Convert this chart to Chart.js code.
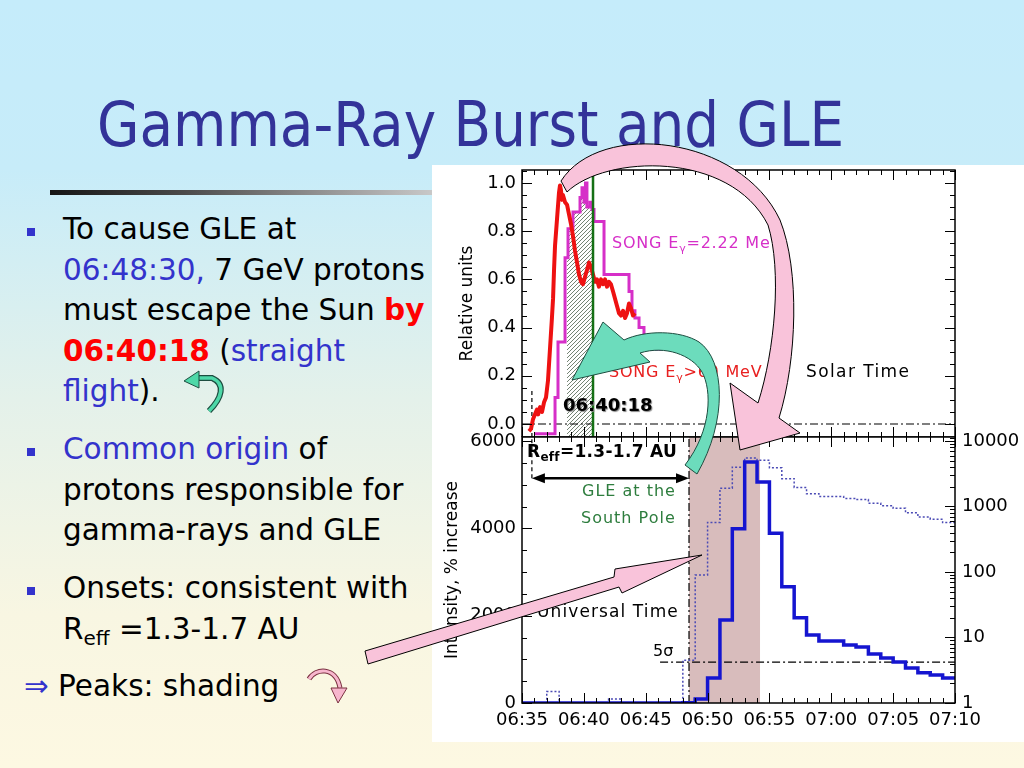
<!DOCTYPE html>
<html>
<head>
<meta charset="utf-8">
<script src="https://cdn.jsdelivr.net/npm/chart.js@4.4.1/dist/chart.umd.min.js"></script>
<style>
html, body { margin: 0; padding: 0; }
body {
    width: 1024px; height: 768px; overflow: hidden; position: relative;
    background: linear-gradient(to bottom, #c5ecfb 0%, #c7ecf9 22%, #e4f1ea 52%, #f8f6e2 80%, #fdf8e2 100%);
    font-family: "DejaVu Sans", sans-serif;
}
.title {
    position: absolute; left: 97px; top: 88px; margin: 0;
    font-weight: normal; font-size: 63px; line-height: 73px; color: #333399;
    white-space: nowrap; transform: scaleX(0.87); transform-origin: left top;
}
.rule {
    position: absolute; left: 50px; top: 190px; width: 382px; height: 5px;
    background: linear-gradient(to right, #151515, #4a4a4a 35%, #9a9a9a 75%, #c8c8c8);
}
.para { position: absolute; left: 63px; font-size: 29.5px; line-height: 40.5px; color: #000; white-space: nowrap; }
.bul { position: absolute; left: 27px; width: 8px; height: 8px; background: #3333cc; }
.blue { color: #3333cc; }
.red { color: #ff0000; font-weight: bold; }
.para sub { font-size: 20px; vertical-align: -6px; line-height: 0; }
#plotbox { position: absolute; left: 432px; top: 165px; width: 592px; height: 577px; background: #fff; }
canvas { position: absolute; }
.lbl { position: absolute; white-space: nowrap; line-height: 1; font-family: "DejaVu Sans", sans-serif; }
.lbl sub { font-size: 11px; vertical-align: -4px; line-height: 0; }
svg { position: absolute; left: 0; top: 0; }
</style>
</head>
<body>

<h1 class="title">Gamma-Ray Burst and GLE</h1>
<div class="rule"></div>

<div class="bul" style="top:228px"></div>
<div class="para" style="top:209px">To cause GLE at<br><span class="blue">06:48:30,</span> 7 GeV protons<br>must escape the Sun <span class="red">by</span><br><span class="red">06:40:18</span> (<span class="blue">straight</span><br><span class="blue">flight</span>).</div>

<div class="bul" style="top:448px"></div>
<div class="para" style="top:429px"><span class="blue">Common origin</span> of<br>protons responsible for<br>gamma-rays and GLE</div>

<div class="bul" style="top:587px"></div>
<div class="para" style="top:568px">Onsets: consistent with<br>R<sub>eff</sub> =1.3-1.7 AU</div>

<div class="para" style="top:666px;left:24px"><span class="blue">&rArr;</span> Peaks: shading</div>

<div id="plotbox"></div>
<canvas id="topChart" width="592" height="272" style="left:432px;top:165px;width:592px;height:272px"></canvas>
<canvas id="botChart" width="592" height="322" style="left:432px;top:420px;width:592px;height:322px"></canvas>

<div class="lbl" style="left:612px;top:235px;font-size:16px;letter-spacing:0.8px;color:#d62fc8">SONG E<sub>&gamma;</sub>=2.22 MeV</div>
<div class="lbl" style="left:609px;top:364px;font-size:16px;letter-spacing:0.8px;color:#e82020">SONG E<sub>&gamma;</sub>&gt;60 MeV</div>
<div class="lbl" style="left:806px;top:363px;font-size:17px;letter-spacing:1.4px;color:#000">Solar Time</div>
<div class="lbl" style="left:563px;top:396px;font-size:18px;font-weight:bold;color:#000;text-shadow:1px 1px 1px #888">06:40:18</div>
<div class="lbl" style="left:527px;top:443px;font-size:17px;font-weight:bold;letter-spacing:0.3px;color:#000">R<sub style="font-size:12px">eff</sub>=1.3-1.7 AU</div>
<div class="lbl" style="left:582px;top:483px;font-size:16px;letter-spacing:1px;color:#2e7d3e">GLE at the</div>
<div class="lbl" style="left:581px;top:510px;font-size:16px;letter-spacing:1px;color:#2e7d3e">South Pole</div>
<div class="lbl" style="left:537px;top:603px;font-size:17px;letter-spacing:1.1px;color:#000">Universal Time</div>
<div class="lbl" style="left:653px;top:643px;font-size:16px;color:#000">5&sigma;</div>

<svg width="1024" height="768" viewBox="0 0 1024 768">
    <!-- pink arc: peaks -> shading -->
    <path d="M561,181 C600,120 740,135 780,220 C800,270 797,360 779,418 L800,433 L740,450 L730,383 L758,403 C775,350 782,270 768,225 C730,150 605,155 567,192 Z"
          fill="#f9c3da" stroke="#000" stroke-width="1"/>
    <!-- green arc: GLE onset -> escape time -->
    <path d="M624,340 L603,322 L572,380 L650,362 L640,353 C665,345 692,355 702,372 C712,390 712,430 685,465 L697,474 C728,420 725,360 699,342 C680,330 645,330 624,340 Z"
          fill="#6cdcbc" stroke="#1d4d40" stroke-width="1"/>
    <!-- straight pink arrow from the text -->
    <path d="M365,651 L614,577 L615,569 L702,555 L622,593 L619,587 L368,664 Z"
          fill="#f9c3da" stroke="#000" stroke-width="1"/>
    <!-- small arrows in the bullet text -->
    <path d="M209,411 C222,398 226,384 212,378 L199,378" fill="none" stroke="#1d4d40" stroke-width="6"/>
    <path d="M209,411 C222,398 226,384 212,378 L199,378" fill="none" stroke="#4ed8a8" stroke-width="3.5"/>
    <path d="M184,381 L199,371 L199,388 Z" fill="#4ed8a8" stroke="#1d4d40" stroke-width="1"/>
    <path d="M309,679 C315,668 336,666 340,688" fill="none" stroke="#7a3040" stroke-width="5"/>
    <path d="M309,679 C315,668 336,666 340,688" fill="none" stroke="#f7b6cd" stroke-width="3"/>
    <path d="M338,703 L331,688 L347,688 Z" fill="#f7b6cd" stroke="#7a3040" stroke-width="1"/>
</svg>

<script>
// ---------- top panel: SONG gamma-ray profiles, solar time (minutes after 06:00) ----------
const pionT = [35.57, 35.73, 35.89, 36.05, 36.21, 36.30, 36.46, 36.62, 36.78, 36.94, 37.10, 37.26, 37.42, 37.51,
               37.59, 37.67, 37.83, 37.99, 38.07, 38.15, 38.23, 38.31, 38.48, 38.64, 38.80, 38.96, 39.12, 39.28,
               39.45, 39.61, 39.77, 39.93, 40.09, 40.26, 40.42, 40.58, 40.74, 40.90, 41.06, 41.22, 41.39, 41.55,
               41.71, 41.87, 42.03, 42.19, 42.36, 42.52, 42.68, 42.84, 43.00, 43.17, 43.33, 43.49, 43.65, 43.81,
               43.97, 44.13];
const pionV = [-0.03, -0.02, 0.02, 0.04, 0.06, 0.04, 0.07, 0.05, 0.09, 0.11, 0.18, 0.31, 0.44, 0.52,
               0.64, 0.74, 0.85, 0.96, 0.99, 0.97, 0.93, 0.95, 0.92, 0.91, 0.87, 0.83, 0.78, 0.72,
               0.67, 0.62, 0.59, 0.58, 0.61, 0.64, 0.67, 0.65, 0.62, 0.59, 0.60, 0.57, 0.60, 0.58,
               0.60, 0.57, 0.59, 0.58, 0.55, 0.52, 0.49, 0.46, 0.45, 0.47, 0.44, 0.46, 0.50, 0.48,
               0.45, 0.46];
// 2.22 MeV line, histogram: each value holds until the next time
const lineT = [36.05, 37.67, 37.91, 38.48, 38.72, 39.12, 39.69, 39.85, 40.01, 40.13, 40.25, 40.50, 40.66,
               40.82, 41.63, 43.65, 43.89, 44.13, 44.46, 44.86, 45.19, 45.51, 45.83, 46.16, 46.40];
const lineV = [-0.04, 0.11, 0.34, 0.69, 0.81, 0.88, 0.94, 0.98, 0.92, 1.00, 0.90, 0.92, 0.89,
               0.84, 0.62, 0.55, 0.47, 0.44, 0.40, 0.36, 0.31, 0.33, 0.31, 0.32, 0.32];
const hatchFrom = 38.64, hatchTo = 40.74;   // shaded part of the 2.22 MeV peak
const escapeT = 40.74;                        // 06:40:18 line
const onsetT = 35.8;                          // dashed onset marker
const relTicks = [0, 0.2, 0.4, 0.6, 0.8, 1.0];

// ---------- bottom panel: South Pole neutron monitor, UT, 1-min bins ----------
const gleT = [35, 36, 37, 38, 39, 40, 41, 42, 43, 44, 45, 46, 47, 48, 49, 50, 51, 52,
              53, 54, 55, 56, 57, 58, 59, 60, 61, 62, 63, 64, 65, 66, 67, 68, 69];
const gleV = [1, 1, 1.5, 1, 1, 1, 1, 1.15, 1, 1, 1, 1, 1, 4.5, 90, 570, 1900, 3990,
              5520, 5060, 3890, 2660, 1950, 1560, 1420, 1420, 1330, 1280, 1120, 1030, 940, 800, 690, 640, 570];
const gleEnd = 70;
const fiveSigma = 4.2, fiveSigmaFrom = 46.16;
const arrivalT = 48.5, peakEndT = 54.25;     // shaded peak interval
const rangeLevel = 5150;                      // height of the R_eff double arrow
const timeTicks = [35, 40, 45, 50, 55, 60, 65, 70];
const intTicks = [0, 2000, 4000, 6000];
const logTicks = [1, 10, 100, 1000, 10000];

const yTopMin = -0.054, yTopMax = 1.054;
const yIntMax = 6092, yLogMax = 11508;

Chart.defaults.font.family = "'DejaVu Sans', sans-serif";
Chart.defaults.color = '#000';

const zip = (t, v) => t.map((x, i) => ({ x: x, y: v[i] }));
const clock = v => String(6 + Math.floor(v / 60)).padStart(2, '0') + ':' + String(v % 60).padStart(2, '0');
const steps = (lo, hi, st) => { const out = []; for (let v = lo; v <= hi + 1e-9; v += st) out.push(+v.toFixed(6)); return out; };
const dashDot = [8, 3, 2, 3];

function valueAt(t) {
    let v = lineV[0];
    lineT.forEach((x, i) => { if (x <= t) v = lineV[i]; });
    return v;
}
const hatchPts = [{ x: hatchFrom, y: valueAt(hatchFrom) }]
    .concat(zip(lineT, lineV).filter(p => p.x > hatchFrom && p.x < hatchTo))
    .concat([{ x: hatchTo, y: valueAt(hatchTo) }]);

function hatchPattern(ctx) {
    const c = document.createElement('canvas');
    c.width = 4; c.height = 4;
    const g = c.getContext('2d');
    g.fillStyle = '#fff'; g.fillRect(0, 0, 4, 4);
    g.strokeStyle = '#4f634f'; g.lineWidth = 0.8;
    g.beginPath();
    g.moveTo(0, 4); g.lineTo(4, 0);
    g.moveTo(-1, 1); g.lineTo(1, -1);
    g.moveTo(3, 5); g.lineTo(5, 3);
    g.stroke();
    return ctx.createPattern(c, 'repeat');
}

// frame with inward ticks, IDL style
function frameTicks(spec) {
    return {
        id: 'frameTicks',
        afterDatasetsDraw(chart) {
            const { ctx, chartArea: a } = chart;
            ctx.save();
            ctx.strokeStyle = '#000';
            ctx.lineWidth = 1;
            spec.forEach(t => {
                const s = chart.scales[t.scale];
                ctx.beginPath();
                [[t.major, 10], [t.minor, 5]].forEach(([vals, len]) => {
                    vals.forEach(v => {
                        const p = Math.round(s.getPixelForValue(v)) + 0.5;
                        t.edges.forEach(e => {
                            if (e === 'top') { ctx.moveTo(p, a.top); ctx.lineTo(p, a.top + len); }
                            if (e === 'bottom') { ctx.moveTo(p, a.bottom); ctx.lineTo(p, a.bottom - len); }
                            if (e === 'left') { ctx.moveTo(a.left, p); ctx.lineTo(a.left + len, p); }
                            if (e === 'right') { ctx.moveTo(a.right, p); ctx.lineTo(a.right - len, p); }
                        });
                    });
                });
                ctx.stroke();
            });
            ctx.lineWidth = 1.5;
            ctx.strokeRect(a.left, a.top, a.right - a.left, a.bottom - a.top);
            ctx.restore();
        }
    };
}

const rangeArrow = {
    id: 'rangeArrow',
    afterDatasetsDraw(chart) {
        const { ctx, scales } = chart;
        const x1 = scales.x.getPixelForValue(onsetT), x2 = scales.x.getPixelForValue(arrivalT);
        const y = scales.y.getPixelForValue(rangeLevel);
        ctx.save();
        ctx.strokeStyle = '#000'; ctx.fillStyle = '#000'; ctx.lineWidth = 2.5;
        ctx.beginPath(); ctx.moveTo(x1 + 8, y); ctx.lineTo(x2 - 8, y); ctx.stroke();
        ctx.beginPath();
        ctx.moveTo(x1, y); ctx.lineTo(x1 + 13, y - 5); ctx.lineTo(x1 + 13, y + 5); ctx.closePath();
        ctx.moveTo(x2, y); ctx.lineTo(x2 - 13, y - 5); ctx.lineTo(x2 - 13, y + 5); ctx.closePath();
        ctx.fill();
        ctx.restore();
    }
};

const line = (data, color, width, extra) => Object.assign({
    data: data, borderColor: color, borderWidth: width, pointRadius: 0, fill: false, tension: 0
}, extra || {});

const topCanvas = document.getElementById('topChart');
new Chart(topCanvas, {
    type: 'line',
    data: {
        datasets: [
            line([{ x: escapeT, y: yTopMin }, { x: escapeT, y: yTopMax }], '#157015', 2.5),
            line(zip(pionT, pionV), '#ee1111', 4, { borderJoinStyle: 'round' }),
            line(zip(lineT, lineV), '#d62fc8', 3, { stepped: 'before' }),
            line([{ x: 35, y: 0 }, { x: 70, y: 0 }], '#000', 1.2, { borderDash: dashDot }),
            line([{ x: onsetT, y: yTopMin }, { x: onsetT, y: 0.14 }], '#000', 1.2, { borderDash: [4, 3] }),
            line(hatchPts, 'rgba(0,0,0,0)', 0, {
                stepped: 'before', fill: 'start',
                backgroundColor: hatchPattern(topCanvas.getContext('2d'))
            })
        ]
    },
    options: {
        responsive: false, animation: false, events: [],
        layout: { padding: { top: 5, right: 69, bottom: 0, left: 0 } },
        plugins: { legend: { display: false }, tooltip: { enabled: false } },
        scales: {
            x: { type: 'linear', min: 35, max: 70, display: false },
            y: {
                type: 'linear', position: 'left', min: yTopMin, max: yTopMax,
                grid: { display: false, drawTicks: false }, border: { display: false },
                ticks: { padding: 6, font: { size: 18 }, callback: v => v.toFixed(1) },
                afterBuildTicks: s => { s.ticks = relTicks.map(v => ({ value: v })); },
                afterFit: s => { s.width = 90; s.paddingTop = 0; s.paddingBottom = 0; },
                title: { display: true, text: 'Relative units', font: { size: 17 }, padding: { top: 25, bottom: 0 } }
            }
        }
    },
    plugins: [frameTicks([
        { scale: 'x', edges: ['top', 'bottom'], major: timeTicks, minor: steps(35, 70, 1) },
        { scale: 'y', edges: ['left', 'right'], major: relTicks, minor: steps(0, 1.05, 0.05) }
    ])]
});

const gleSteps = zip(gleT, gleV).concat([{ x: gleEnd, y: gleV[gleV.length - 1] }]);
const logMinor = [];
[1, 10, 100, 1000].forEach(d => [2, 3, 4, 5, 6, 7, 8, 9].forEach(k => logMinor.push(d * k)));
logMinor.push(11000);

new Chart(document.getElementById('botChart'), {
    type: 'line',
    data: {
        datasets: [
            line(gleSteps, '#1515d0', 3.5, { stepped: 'before', yAxisID: 'y' }),
            line(gleSteps, '#4b4bb5', 1.5, { stepped: 'before', yAxisID: 'yLog', borderDash: [2, 2] }),
            line([{ x: fiveSigmaFrom, y: fiveSigma }, { x: 70, y: fiveSigma }], '#000', 1.2, { yAxisID: 'yLog', borderDash: dashDot }),
            line([{ x: arrivalT, y: 0 }, { x: arrivalT, y: yIntMax }], '#000', 1.2, { yAxisID: 'y', borderDash: dashDot }),
            line([{ x: onsetT, y: rangeLevel }, { x: onsetT, y: yIntMax }], '#000', 1.2, { yAxisID: 'y', borderDash: [4, 3] }),
            line([{ x: arrivalT, y: yIntMax }, { x: peakEndT, y: yIntMax }], 'rgba(0,0,0,0)', 0, {
                yAxisID: 'y', fill: 'start', backgroundColor: '#d8bcbc'
            })
        ]
    },
    options: {
        responsive: false, animation: false, events: [],
        layout: { padding: { top: 17, right: 0, bottom: 0, left: 0 } },
        plugins: { legend: { display: false }, tooltip: { enabled: false } },
        scales: {
            x: {
                type: 'linear', min: 35, max: 70,
                grid: { display: false, drawTicks: false }, border: { display: false },
                ticks: { padding: 7, font: { size: 18 }, maxRotation: 0, callback: v => clock(v) },
                afterBuildTicks: s => { s.ticks = timeTicks.map(v => ({ value: v })); },
                afterFit: s => { s.height = 39; s.paddingLeft = 0; s.paddingRight = 0; }
            },
            y: {
                type: 'linear', position: 'left', min: 0, max: yIntMax,
                grid: { display: false, drawTicks: false }, border: { display: false },
                ticks: { padding: 6, font: { size: 18 }, callback: v => String(v) },
                afterBuildTicks: s => { s.ticks = intTicks.map(v => ({ value: v })); },
                afterFit: s => { s.width = 90; s.paddingTop = 0; s.paddingBottom = 0; },
                title: { display: true, text: 'Intensity, % increase', font: { size: 17 }, padding: { top: 10, bottom: 0 } }
            },
            yLog: {
                type: 'logarithmic', position: 'right', min: 1, max: yLogMax,
                grid: { display: false, drawTicks: false }, border: { display: false },
                ticks: { padding: 7, font: { size: 18 }, callback: v => String(v) },
                afterBuildTicks: s => { s.ticks = logTicks.map(v => ({ value: v })); },
                afterFit: s => { s.width = 69; s.paddingTop = 0; s.paddingBottom = 0; }
            }
        }
    },
    plugins: [frameTicks([
        { scale: 'x', edges: ['top', 'bottom'], major: timeTicks, minor: steps(35, 70, 1) },
        { scale: 'y', edges: ['left'], major: intTicks, minor: steps(0, 6000, 500) },
        { scale: 'yLog', edges: ['right'], major: logTicks, minor: logMinor }
    ]), rangeArrow]
});
</script>
</body>
</html>
